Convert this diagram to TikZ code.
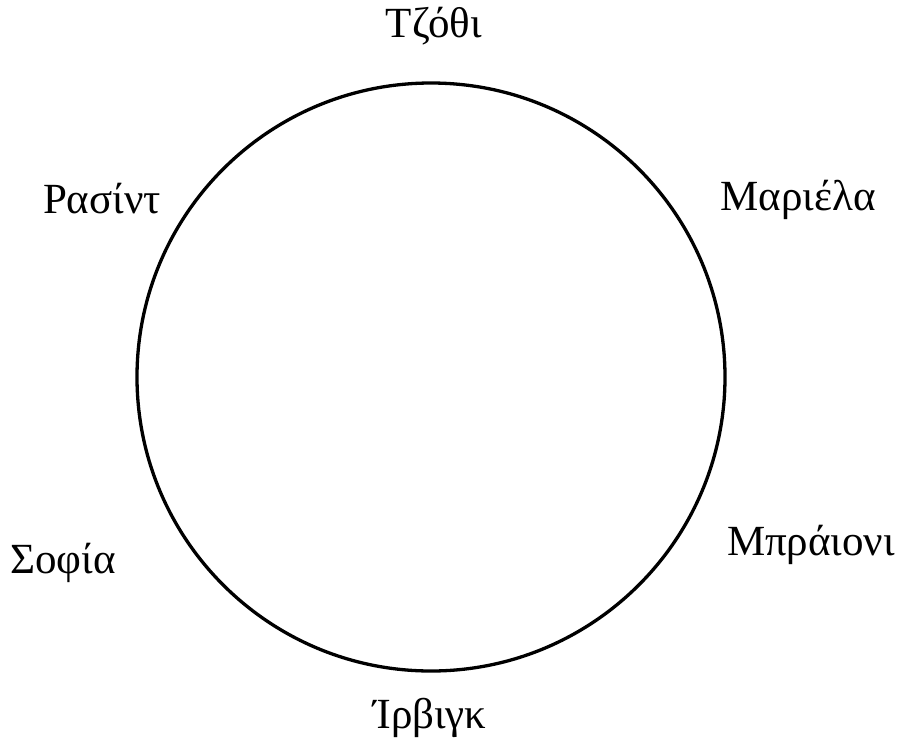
\documentclass[tikz,border=0pt]{standalone}
\usepackage{fontspec}
\setmainfont{Liberation Serif}
\begin{document}
\begin{tikzpicture}[x=1pt,y=-1pt,
  lbl/.style={anchor=base,inner sep=0pt,font=\fontsize{43}{47}\selectfont}]
\useasboundingbox (0,0) rectangle (898,740);
\node[draw,line width=3.3pt,circle,minimum size=588pt,inner sep=0pt] (c) at (431,377) {};
\node[lbl] (t) at (434,37) {Τζόθι};
\node[lbl] (m) at (798,210) {Μαριέλα};
\node[lbl] (b) at (811,555) {Μπράιονι};
\node[lbl] (i) at (430,728) {Ίρβιγκ};
\node[lbl] (s) at (63,573) {Σοφία};
\node[lbl] (r) at (102,213) {Ρασίντ};
\end{tikzpicture}
\end{document}
